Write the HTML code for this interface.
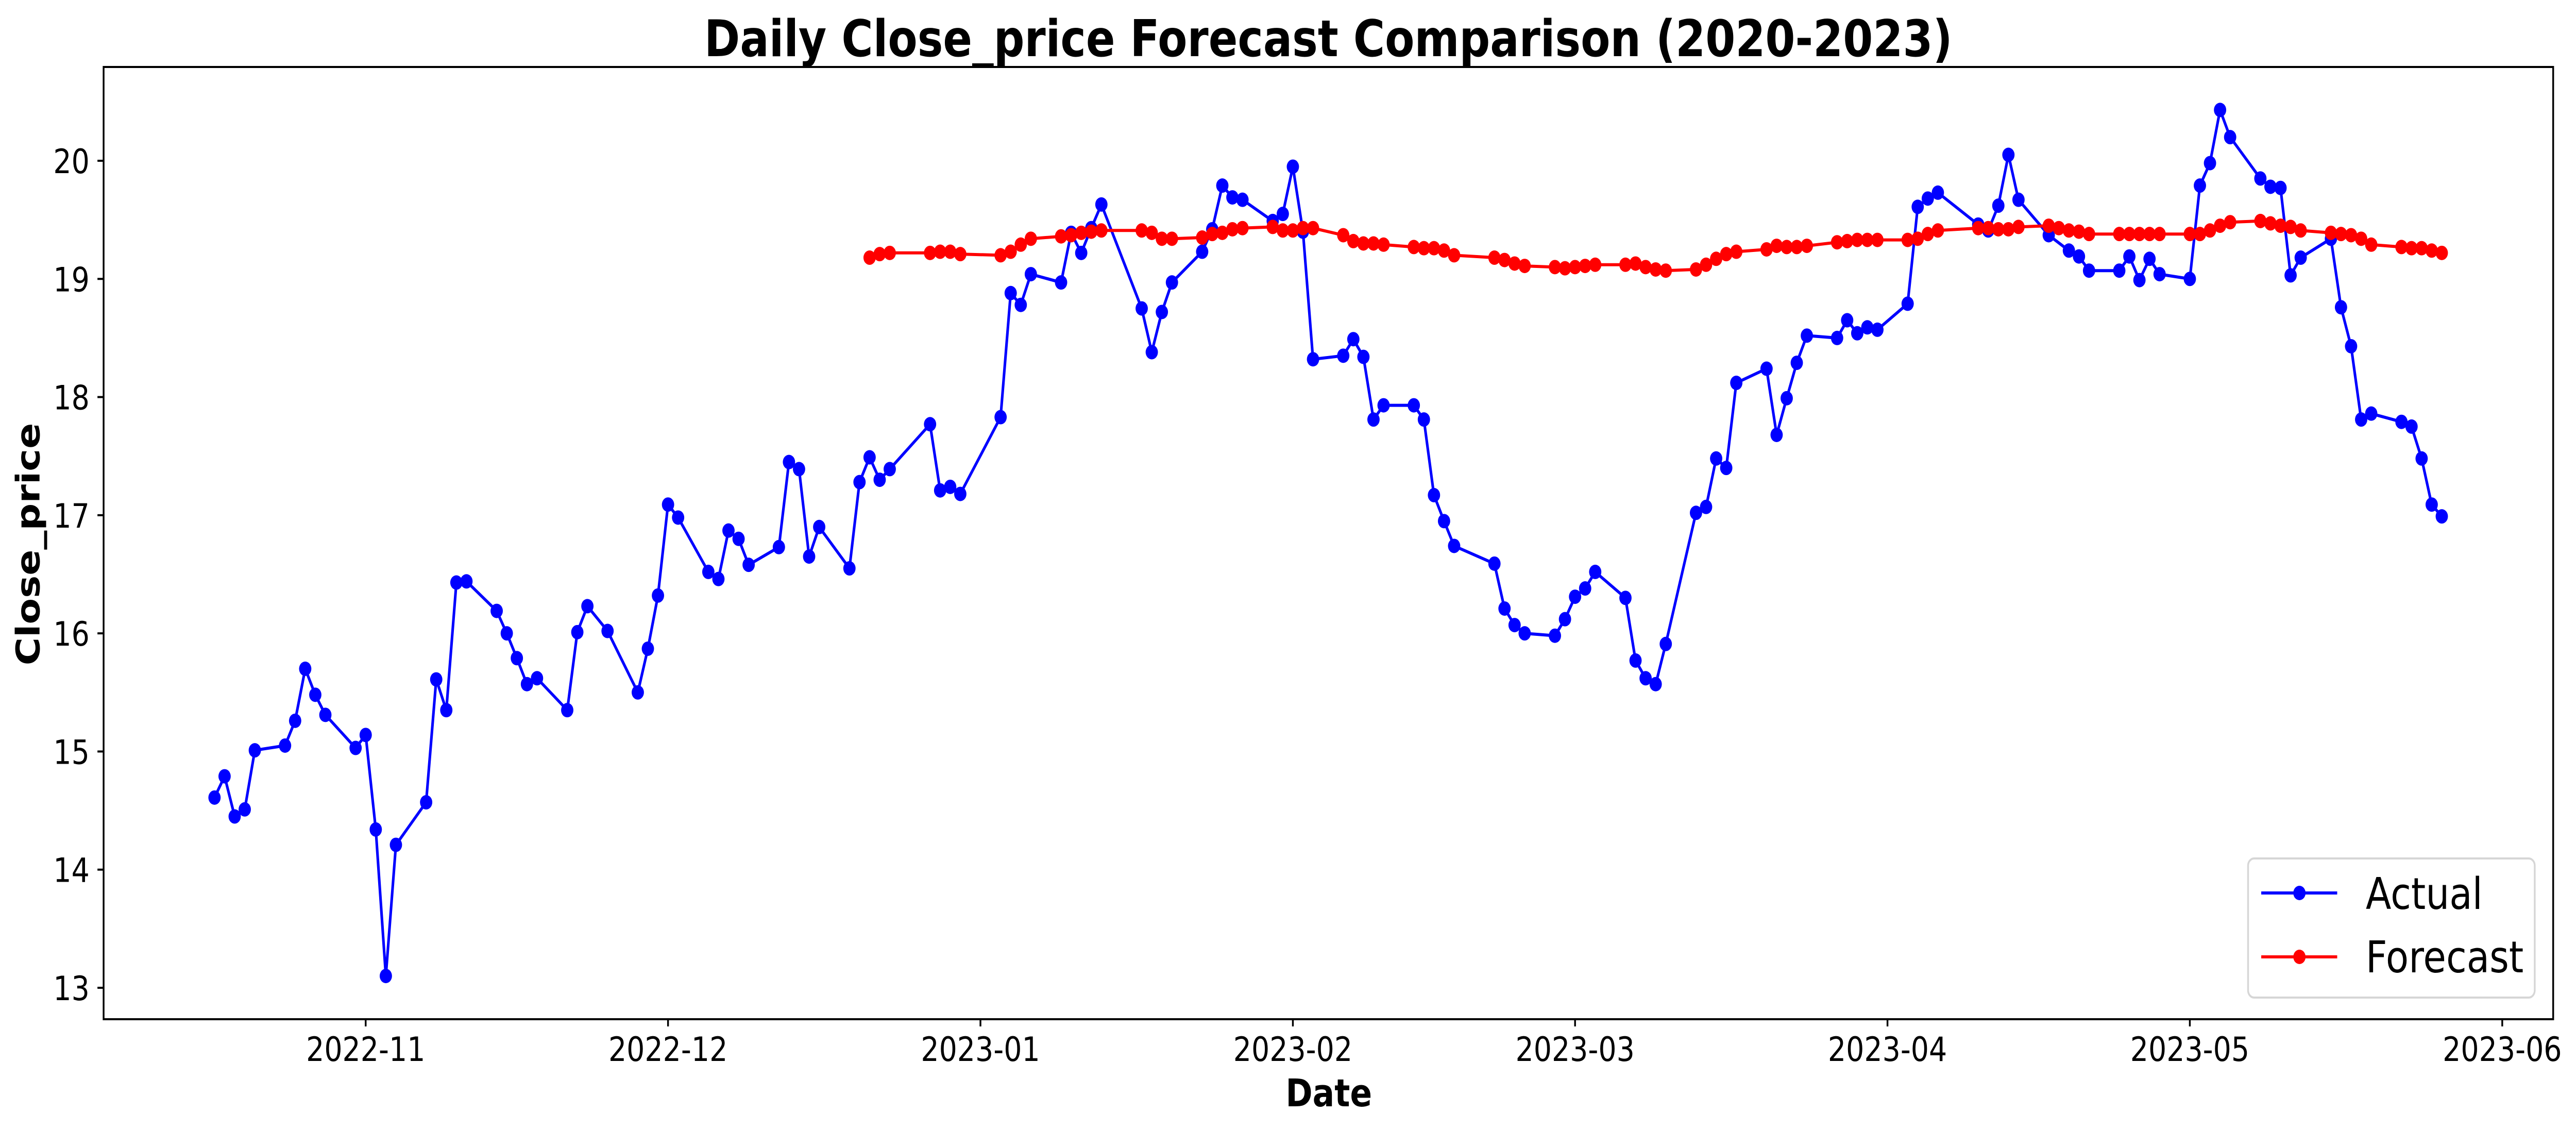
<!DOCTYPE html>
<html><head><meta charset="utf-8"><style>html,body{margin:0;padding:0;background:#fff;width:100%;height:100%;overflow:hidden}svg{display:block;width:100vw;height:100vh}</style></head>
<body>
<svg id="chart" xmlns="http://www.w3.org/2000/svg" viewBox="0 0 5868 2193" preserveAspectRatio="none" font-family="'DejaVu Sans','Liberation Sans',sans-serif">
<rect x="0" y="0" width="5868" height="2193" fill="#fff"/>
<text x="3026" y="109" text-anchor="middle" font-size="98" font-weight="bold">Daily Close_price Forecast Comparison (2020-2023)</text>
<g id="plot"></g>
<rect x="236" y="130" width="5580" height="1848" fill="none" stroke="#000" stroke-width="4"/>
<text x="3027" y="2147" text-anchor="middle" font-size="74" font-weight="bold">Date</text>
<text transform="translate(90,1056) rotate(-90)" text-anchor="middle" font-size="74" font-weight="bold">Close_price</text>
<g>
<rect x="5121" y="1666" width="653" height="270" rx="14" fill="#fff" fill-opacity="0.8" stroke="#d6d6d6" stroke-width="4"/>
<g>
<line x1="5151" y1="1733" x2="5324" y2="1733" stroke="#0000ff" stroke-width="6"/>
<circle cx="5238" cy="1733" r="14" fill="#0000ff"/>
<text x="5389" y="1764" font-size="85">Actual</text>
</g>
<g>
<line x1="5151" y1="1857" x2="5324" y2="1857" stroke="#ff0000" stroke-width="6"/>
<circle cx="5238" cy="1857" r="14" fill="#ff0000"/>
<text x="5389" y="1887" font-size="85">Forecast</text>
</g>
</g>
</svg>
<script>
// day offsets from 2022-11-01
const actualDays = [-15,-14,-13,-12,-11,-8,-7,-6,-5,-4,-1,0,1,2,3,6,7,8,9,10,13,14,15,16,17,20,21,22,24,27,28,29,30,31,34,35,36,37,38,41,42,43,44,45,48,49,50,51,52,56,57,58,59,63,64,65,66,69,70,71,72,73,77,78,79,80,83,84,85,86,87,90,91,92,93,94,97,98,99,100,101,104,105,106,107,108,112,113,114,115,118,119,120,121,122,125,126,127,128,129,132,133,134,135,136,139,140,141,142,143,146,147,148,149,150,153,154,155,156,160,161,162,163,164,167,169,170,171,174,175,176,177,178,181,182,183,184,185,188,189,190,191,192,195,196,197,198,199,202,203,204,205,206];
const actualValues = [14.61,14.79,14.45,14.51,15.01,15.05,15.26,15.70,15.48,15.31,15.03,15.14,14.34,13.10,14.21,14.57,15.61,15.35,16.43,16.44,16.19,16.00,15.79,15.57,15.62,15.35,16.01,16.23,16.02,15.50,15.87,16.32,17.09,16.98,16.52,16.46,16.87,16.80,16.58,16.73,17.45,17.39,16.65,16.90,16.55,17.28,17.49,17.30,17.39,17.77,17.21,17.24,17.18,17.83,18.88,18.78,19.04,18.97,19.39,19.22,19.43,19.63,18.75,18.38,18.72,18.97,19.23,19.42,19.79,19.69,19.67,19.49,19.55,19.95,19.40,18.32,18.35,18.49,18.34,17.81,17.93,17.93,17.81,17.17,16.95,16.74,16.59,16.21,16.07,16.00,15.98,16.12,16.31,16.38,16.52,16.30,15.77,15.62,15.57,15.91,17.02,17.07,17.48,17.40,18.12,18.24,17.68,17.99,18.29,18.52,18.50,18.65,18.54,18.59,18.57,18.79,19.61,19.68,19.73,19.46,19.41,19.62,20.05,19.67,19.37,19.24,19.19,19.07,19.07,19.19,18.99,19.17,19.04,19.00,19.79,19.98,20.43,20.20,19.85,19.78,19.77,19.03,19.18,19.34,18.76,18.43,17.81,17.86,17.79,17.75,17.48,17.09,16.99];
const forecastDays = [50,51,52,56,57,58,59,63,64,65,66,69,70,71,72,73,77,78,79,80,83,84,85,86,87,90,91,92,93,94,97,98,99,100,101,104,105,106,107,108,112,113,114,115,118,119,120,121,122,125,126,127,128,129,132,133,134,135,136,139,140,141,142,143,146,147,148,149,150,153,154,155,156,160,161,162,163,164,167,168,169,170,171,174,175,176,177,178,181,182,183,184,185,188,189,190,191,192,195,196,197,198,199,202,203,204,205,206];
const forecastValues = [19.18,19.21,19.22,19.22,19.23,19.23,19.21,19.20,19.23,19.29,19.34,19.36,19.37,19.39,19.40,19.41,19.41,19.39,19.34,19.34,19.35,19.38,19.39,19.42,19.43,19.44,19.41,19.41,19.43,19.43,19.37,19.32,19.30,19.30,19.29,19.27,19.26,19.26,19.24,19.20,19.18,19.16,19.13,19.11,19.10,19.09,19.10,19.11,19.12,19.12,19.13,19.10,19.08,19.07,19.08,19.12,19.17,19.21,19.23,19.25,19.28,19.27,19.27,19.28,19.31,19.32,19.33,19.33,19.33,19.33,19.34,19.38,19.41,19.43,19.43,19.42,19.42,19.44,19.45,19.43,19.41,19.40,19.38,19.38,19.38,19.38,19.38,19.38,19.38,19.38,19.41,19.45,19.48,19.49,19.47,19.45,19.44,19.41,19.39,19.38,19.37,19.34,19.29,19.27,19.26,19.26,19.24,19.22];
const xTickLabels = ["2022-11","2022-12","2023-01","2023-02","2023-03","2023-04","2023-05","2023-06"];
const xTickDays = [0,30,61,92,120,151,181,212];
const yTickValues = [13,14,15,16,17,18,19,20];

const NS = "http://www.w3.org/2000/svg";
const X0 = 833, PXD = (5700 - 833) / 212;
function xScale(d){ return X0 + d * PXD; }
function yScale(v){ return 1917 - (v - 13) * (1917 - 312) / 7; }
const plot = document.getElementById('plot');
const chart = document.getElementById('chart');
function mk(tag, attrs, parent){ const e = document.createElementNS(NS, tag); for (const k in attrs) e.setAttribute(k, attrs[k]); (parent||plot).appendChild(e); return e; }

xTickDays.forEach((d, i) => {
  const x = xScale(d);
  const t = mk('line', {x1:x, y1:1978, x2:x, y2:1992, stroke:'#000', 'stroke-width':4}, chart);
  
  
  const l = mk('text', {x:x, y:2059, 'text-anchor':'middle', 'font-size':65}, chart);
  l.textContent = xTickLabels[i];
  
  
});
yTickValues.forEach(v => {
  const y = yScale(v);
  const t = mk('line', {x1:222, y1:y, x2:236, y2:y, stroke:'#000', 'stroke-width':4}, chart);
  
  
  const l = mk('text', {x:204, y:y + 24, 'text-anchor':'end', 'font-size':65}, chart);
  l.textContent = String(v);
  
  
});

function series(days, vals, color, name){
  const g = mk('g', {});
  
  
  const pts = days.map((d, i) => xScale(d).toFixed(1) + ',' + yScale(vals[i]).toFixed(1)).join(' ');
  const pl = mk('polyline', {points:pts, fill:'none', stroke:color, 'stroke-width':6, 'stroke-linejoin':'round'}, g);
  
  
  days.forEach((d, i) => {
    const c = mk('circle', {cx:xScale(d), cy:yScale(vals[i]), r:14, fill:color}, g);
    
    
  });
}
series(actualDays, actualValues, '#0000ff', 'actual');
series(forecastDays, forecastValues, '#ff0000', 'forecast');
</script>
</body></html>
